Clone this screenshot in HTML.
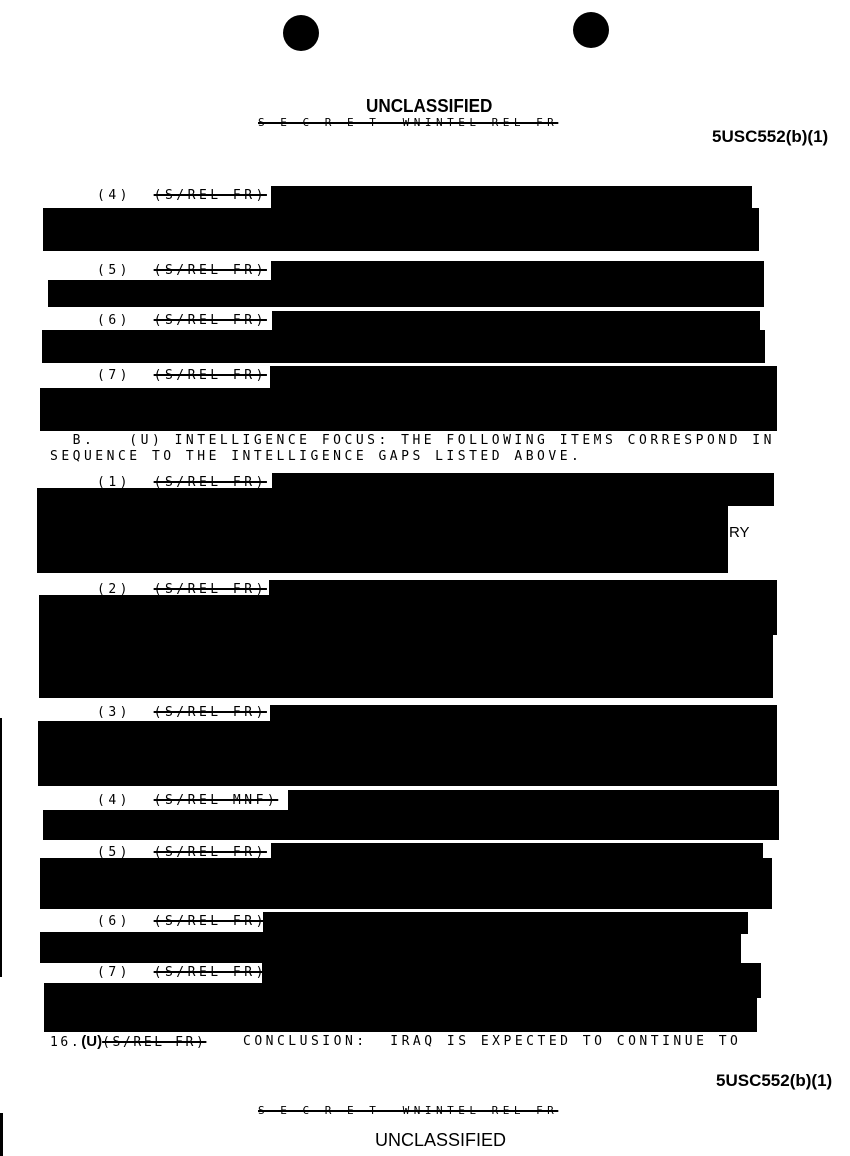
<!DOCTYPE html>
<html><head><meta charset="utf-8"><style>
html,body{margin:0;padding:0;background:#fff;}
body{width:850px;height:1156px;position:relative;overflow:hidden;}
.r{position:absolute;background:#000;}
.t{position:absolute;font-family:"DejaVu Sans Mono","Liberation Mono",monospace;font-size:13px;letter-spacing:3.5px;color:#000;white-space:pre;line-height:14px;}
.s{text-decoration:line-through;text-decoration-thickness:2px;}
.h{position:absolute;font-family:"Liberation Sans",sans-serif;font-weight:bold;color:#000;white-space:pre;}
.d{position:absolute;border-radius:50%;background:#000;}
</style></head><body>
<div class="d" style="left:283px;top:15px;width:36px;height:36px"></div>
<div class="d" style="left:573px;top:12px;width:36px;height:36px"></div>

<div class="h" style="left:366px;top:96px;font-size:18px;transform:scaleX(0.95);transform-origin:left">UNCLASSIFIED</div>
<div class="t s" style="left:258px;top:116px;font-size:11px;letter-spacing:4.5px;">S E C R E T  WNINTEL REL FR</div>
<div class="h" style="left:712px;top:127px;font-size:17px">5USC552(b)(1)</div>

<div class="t" style="left:97px;top:189px">(4)  <span class="s">(S/REL FR)</span></div>
<div class="r" style="left:271px;top:186px;width:481px;height:22px"></div>
<div class="r" style="left:43px;top:208px;width:716px;height:43px"></div>
<div class="t" style="left:97px;top:264px">(5)  <span class="s">(S/REL FR)</span></div>
<div class="r" style="left:271px;top:261px;width:493px;height:20px"></div>
<div class="r" style="left:48px;top:280px;width:716px;height:27px"></div>
<div class="t" style="left:97px;top:314px">(6)  <span class="s">(S/REL FR)</span></div>
<div class="r" style="left:272px;top:311px;width:488px;height:20px"></div>
<div class="r" style="left:42px;top:330px;width:723px;height:33px"></div>
<div class="t" style="left:97px;top:369px">(7)  <span class="s">(S/REL FR)</span></div>
<div class="r" style="left:270px;top:366px;width:507px;height:23px"></div>
<div class="r" style="left:40px;top:388px;width:737px;height:43px"></div>

<div class="t" style="left:50px;top:434px">  B.   (U) INTELLIGENCE FOCUS: THE FOLLOWING ITEMS CORRESPOND IN</div>
<div class="t" style="left:50px;top:450px">SEQUENCE TO THE INTELLIGENCE GAPS LISTED ABOVE.</div>

<div class="t" style="left:97px;top:476px">(1)  <span class="s">(S/REL FR)</span></div>
<div class="r" style="left:272px;top:473px;width:502px;height:33px"></div>
<div class="r" style="left:37px;top:488px;width:737px;height:18px"></div>
<div class="r" style="left:37px;top:505px;width:691px;height:68px"></div>
<div class="h" style="left:729px;top:524px;font-size:15px;font-weight:normal">RY</div>
<div class="t" style="left:97px;top:583px">(2)  <span class="s">(S/REL FR)</span></div>
<div class="r" style="left:269px;top:580px;width:508px;height:55px"></div>
<div class="r" style="left:39px;top:595px;width:738px;height:40px"></div>
<div class="r" style="left:39px;top:634px;width:734px;height:64px"></div>
<div class="t" style="left:97px;top:706px">(3)  <span class="s">(S/REL FR)</span></div>
<div class="r" style="left:270px;top:705px;width:507px;height:81px"></div>
<div class="r" style="left:38px;top:721px;width:739px;height:65px"></div>
<div class="t" style="left:97px;top:794px">(4)  <span class="s">(S/REL MNF)</span></div>
<div class="r" style="left:288px;top:790px;width:491px;height:22px"></div>
<div class="r" style="left:43px;top:810px;width:736px;height:30px"></div>
<div class="t" style="left:97px;top:846px">(5)  <span class="s">(S/REL FR)</span></div>
<div class="r" style="left:271px;top:843px;width:492px;height:17px"></div>
<div class="r" style="left:40px;top:858px;width:732px;height:51px"></div>
<div class="t" style="left:97px;top:915px">(6)  <span class="s">(S/REL FR)</span></div>
<div class="r" style="left:263px;top:912px;width:485px;height:22px"></div>
<div class="r" style="left:40px;top:932px;width:701px;height:31px"></div>
<div class="t" style="left:97px;top:966px">(7)  <span class="s">(S/REL FR)</span></div>
<div class="r" style="left:262px;top:963px;width:499px;height:35px"></div>
<div class="r" style="left:44px;top:983px;width:713px;height:49px"></div>

<div class="t" style="left:50px;top:1035px;letter-spacing:2.6px">16.<span style="font-family:'Liberation Sans',sans-serif;font-weight:bold;font-size:15px;letter-spacing:0">(U)</span><span class="s">(S/REL FR)</span><span style="position:absolute;left:193px;letter-spacing:3.5px">CONCLUSION:  IRAQ IS EXPECTED TO CONTINUE TO</span></div>

<div class="h" style="left:716px;top:1071px;font-size:17px">5USC552(b)(1)</div>
<div class="t s" style="left:258px;top:1104px;font-size:11px;letter-spacing:4.5px;">S E C R E T  WNINTEL REL FR</div>
<div class="h" style="left:375px;top:1130px;font-size:18px;font-weight:normal">UNCLASSIFIED</div>

<div class="r" style="left:0;top:718px;width:2px;height:259px"></div>
<div class="r" style="left:0;top:1113px;width:3px;height:43px"></div>
</body></html>
